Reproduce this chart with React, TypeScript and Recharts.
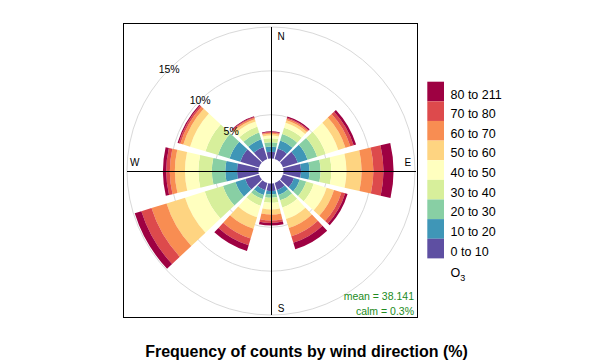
import React from 'react';
import { RadialBarChart, RadialBar, PolarGrid, PolarAngleAxis, PolarRadiusAxis } from 'recharts';

// wind direction sectors (degrees, clockwise from north)
const directions = ['0', '30', '60', '90', '120', '150', '180', '210', '240', '270', '300', '330'];

// O3 concentration bands
const bandLabels = ['0 to 10', '10 to 20', '20 to 30', '30 to 40', '40 to 50', '50 to 60', '60 to 70', '70 to 80', '80 to 211'];
const bandColors = ['#5E4FA2', '#3F96B7', '#88CFA4', '#D7EF9B', '#FFFFBF', '#FED481', '#F88D52', '#DD4A4C', '#9E0142'];

// frequency (%) of each band per direction
const band0 = [0.78, 1.24, 1.78, 2.01, 1.32, 0.86, 0.86, 0.86, 1.67, 2.45, 2.24, 1.44];
const band1 = [0.58, 0.96, 1.15, 0.96, 0.69, 0.58, 0.38, 0.58, 1.15, 1.34, 1.27, 0.92];
const band2 = [0.50, 0.77, 1.15, 1.26, 0.76, 0.64, 0.39, 0.46, 1.49, 1.53, 1.38, 0.80];
const band3 = [0.46, 0.77, 1.03, 1.23, 0.89, 0.85, 0.57, 0.80, 2.18, 1.54, 1.49, 0.69];
const band4 = [0.30, 0.57, 1.50, 1.72, 1.54, 1.38, 0.77, 1.38, 2.35, 1.53, 1.84, 0.63];
const band5 = [0.20, 0.31, 0.86, 1.73, 0.88, 1.08, 0.57, 1.38, 2.21, 1.15, 0.80, 0.29];
const band6 = [0.11, 0.18, 0.58, 1.34, 0.89, 0.99, 0.69, 1.15, 1.80, 0.57, 0.35, 0.15];
const band7 = [0.08, 0.12, 0.40, 1.15, 0.44, 0.77, 0.27, 0.80, 1.21, 0.41, 0.20, 0.10];
const band8 = [0.09, 0.14, 0.29, 1.15, 0.29, 0.78, 0.30, 0.69, 0.79, 0.38, 0.14, 0.09];
const bands = [band0, band1, band2, band3, band4, band5, band6, band7, band8];

const ringTicks = [5, 10, 15];
const meanText = 'mean = 38.141';
const calmText = 'calm = 0.3%';
const title = 'Frequency of counts by wind direction (%)';

const data = directions.map((d, i) => {
  const row: Record<string, any> = { dir: d };
  bands.forEach((b, j) => {
    row['b' + j] = b[i];
  });
  return row;
});

const FONT = '"Liberation Sans", Arial, Helvetica, sans-serif';

const RingTick = (props: any) => {
  const { x, y, payload } = props;
  return (
    <text x={x} y={y} textAnchor="middle" dominantBaseline="central" fontSize={10.5} fontFamily={FONT} fill="#000">
      {payload.value}%
    </text>
  );
};

export default function App() {
  const cx = 271;
  const cy = 171;
  return (
    <div style={{ position: 'absolute', left: 0, top: 0, width: 613, height: 364, background: '#fff' }}>
      <RadialBarChart
        width={613}
        height={364}
        data={data}
        cx={cx}
        cy={cy}
        innerRadius={12.5}
        outerRadius={144}
        startAngle={75}
        endAngle={-285}
        layout="centric"
        barCategoryGap="7.5%"
        margin={{ top: 0, right: 0, bottom: 0, left: 0 }}
      >
        <PolarGrid gridType="circle" radialLines={false} stroke="#d9d9d9" strokeWidth={1} />
        <PolarAngleAxis type="category" dataKey="dir" tick={false} axisLine={false} tickLine={false} />
        <PolarRadiusAxis
          type="number"
          domain={[0, 15]}
          ticks={ringTicks}
          angle={135}
          axisLine={false}
          tickLine={false}
          tick={<RingTick />}
        />
        {bands.map((_, j) => (
          <RadialBar
            key={j}
            dataKey={'b' + j}
            stackId="a"
            fill={bandColors[j]}
            isAnimationActive={false}
          />
        ))}
      </RadialBarChart>
      <svg width={613} height={364} style={{ position: 'absolute', left: 0, top: 0, pointerEvents: 'none' }}>
        <rect x={123.5} y={23.5} width={294} height={294} fill="none" stroke="#000" strokeWidth={1} />
        <line x1={271.5} y1={27} x2={271.5} y2={315} stroke="#000" strokeWidth={1} />
        <line x1={127} y1={171.5} x2={416} y2={171.5} stroke="#000" strokeWidth={1} />
        <g fontFamily={FONT} fontSize={10} fill="#000" textAnchor="middle" dominantBaseline="central">
          <text x={281.2} y={36.3}>N</text>
          <text x={407.8} y={162.7}>E</text>
          <text x={281.2} y={308.3}>S</text>
          <text x={134.7} y={162.7}>W</text>
        </g>
        <g fontFamily={FONT} fontSize={10.5} fill="#228B22" textAnchor="end">
          <text x={414} y={299.5}>{meanText}</text>
          <text x={414} y={315.3}>{calmText}</text>
        </g>
        {bandLabels.map((lab, j) => {
          const idx = bandLabels.length - 1 - j;
          const top = 81.7 + j * 19.63;
          return (
            <g key={lab}>
              <rect x={427.3} y={top} width={16.7} height={19.63} fill={bandColors[idx]} />
              <text x={450.5} y={top + 16.8} fontFamily={FONT} fontSize={12.5} fill="#000">
                {bandLabels[idx]}
              </text>
            </g>
          );
        })}
        <text x={450.5} y={277.3} fontFamily={FONT} fontSize={12.5} fill="#000">
          O<tspan fontSize={9} dy={4}>3</tspan>
        </text>
        <text x={306.5} y={357} fontFamily={FONT} fontSize={16} fontWeight="bold" fill="#000" textAnchor="middle">
          {title}
        </text>
      </svg>
    </div>
  );
}
